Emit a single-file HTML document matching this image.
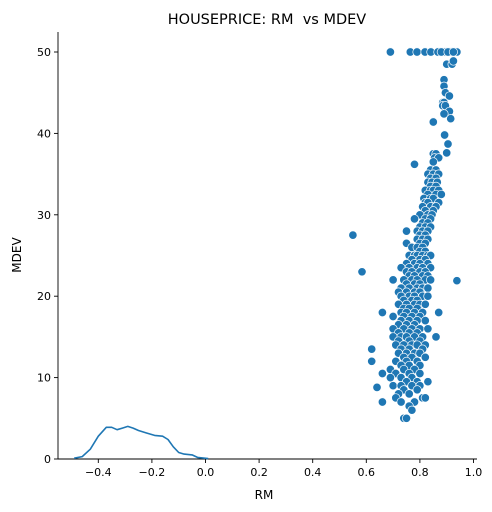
<!DOCTYPE html>
<html><head><meta charset="utf-8"><style>
html,body{margin:0;padding:0;background:#fff;}
svg{display:block;font-family:"DejaVu Sans","Liberation Sans",sans-serif;}
.pre{white-space:pre;}
</style></head><body>
<svg id="chart" width="492" height="512">
<text class="pre" x="267" y="24" text-anchor="middle" font-size="14.5">HOUSEPRICE: RM  vs MDEV</text>
<text x="21" y="255" text-anchor="middle" font-size="12" transform="rotate(-90 21 255)">MDEV</text>
<text x="264" y="499" text-anchor="middle" font-size="12">RM</text>
<g id="axes"></g>
<g id="kde"></g>
<g id="pts"></g>
</svg>
<script>
const xTicks=[-0.4,-0.2,0.0,0.2,0.4,0.6,0.8,1.0];
const xTickLabels=["\u22120.4","\u22120.2","0.0","0.2","0.4","0.6","0.8","1.0"];
const yTicks=[0,10,20,30,40,50];
const yTickLabels=["0","10","20","30","40","50"];
const kdeX=[-0.49,-0.46,-0.43,-0.40,-0.37,-0.35,-0.33,-0.31,-0.29,-0.27,-0.25,-0.22,-0.19,-0.16,-0.14,-0.12,-0.10,-0.08,-0.05,-0.03,0.01];
const kdeY=[0.1,0.3,1.2,2.8,3.9,3.9,3.6,3.8,4.0,3.8,3.5,3.2,2.9,2.8,2.4,1.5,0.8,0.6,0.5,0.2,0.05];
const rows=[
[50,[0.69,0.764,0.789,0.819,0.841,0.867,0.894,0.916,0.938,0.88,0.905,0.925]],
[48.5,[0.90,0.92]],[48.9,[0.925]],[46.6,[0.89]],[45.8,[0.89]],[45,[0.895]],[44.6,[0.91]],
[43.8,[0.885,0.89]],[43.4,[0.885,0.895]],[42.7,[0.91]],[42.4,[0.89]],[41.8,[0.915]],[41.4,[0.85]],
[39.8,[0.892]],[38.7,[0.905]],[37.6,[0.90]],[36.2,[0.78]],
[37.5,[0.85,0.86]],[37,[0.855,0.87]],[36.5,[0.85]],[35.5,[0.84,0.86]],[35,[0.83,0.85,0.87]],[34.5,[0.84,0.86]],
[34,[0.83,0.845,0.865]],[33.5,[0.84,0.86]],[33,[0.82,0.84,0.85,0.87]],[32.5,[0.83,0.86,0.88]],[32,[0.815,0.84,0.85]],
[31.5,[0.82,0.83,0.87]],[31,[0.81,0.84,0.86]],[30.5,[0.82,0.85]],[30,[0.80,0.83,0.845]],[29.5,[0.78,0.82,0.84]],
[29,[0.81,0.83]],[28.5,[0.80,0.82,0.84]],[28,[0.79,0.81,0.83,0.75]],[27.5,[0.80,0.82,0.55]],[27,[0.79,0.81,0.83]],
[26.5,[0.80,0.82,0.75]],[26,[0.77,0.79,0.81]],[25.5,[0.80,0.82]],[25,[0.76,0.78,0.79,0.81,0.83,0.84]],
[24.5,[0.77,0.80,0.82]],[24,[0.75,0.78,0.80,0.83]],[23.5,[0.73,0.76,0.79,0.81,0.84]],[23,[0.75,0.77,0.80,0.82,0.584]],
[22.5,[0.76,0.78,0.81,0.83]],[22,[0.70,0.74,0.77,0.79,0.82,0.84]],[21.9,[0.938]],[21.5,[0.75,0.78,0.80]],
[21,[0.73,0.76,0.79,0.81,0.83]],[20.5,[0.72,0.75,0.78,0.80]],[20,[0.73,0.76,0.78,0.81,0.83]],[19.5,[0.74,0.77,0.79]],
[19,[0.72,0.75,0.78,0.80,0.82]],[18.5,[0.74,0.76,0.79]],[18,[0.66,0.73,0.75,0.78,0.81,0.87]],[17.5,[0.70,0.74,0.77,0.80]],
[17,[0.73,0.76,0.79,0.82]],[16.5,[0.72,0.75,0.78]],[16,[0.70,0.74,0.77,0.80,0.83]],[15.5,[0.72,0.76,0.79]],
[15,[0.70,0.73,0.75,0.78,0.81,0.86]],[14.5,[0.72,0.76,0.80]],[14,[0.71,0.74,0.77,0.79,0.82]],[13.5,[0.62,0.73,0.76,0.81]],
[13,[0.72,0.75,0.78,0.80]],[12.5,[0.74,0.77,0.82]],[12,[0.62,0.71,0.75,0.79]],[11.5,[0.73,0.76,0.80]],
[11,[0.69,0.74,0.78]],[10.5,[0.66,0.71,0.76,0.80]],[10,[0.69,0.73,0.77]],[9.5,[0.75,0.79,0.83]],
[9,[0.70,0.73,0.77,0.80]],[8.8,[0.64]],[8.5,[0.74,0.79]],[8,[0.72,0.76]],[7.5,[0.71,0.81,0.82]],
[7,[0.66,0.73,0.78]],[6.5,[0.76]],[6,[0.77]],[5,[0.74,0.75]]
];
const L=58,R=477,T=32,B=459;
const xs=v=>205.5+268*v;
const ys=v=>B-v*8.14;
const NS="http://www.w3.org/2000/svg";
function mk(tag,attrs,parent){const e=document.createElementNS(NS,tag);for(const k in attrs)e.setAttribute(k,attrs[k]);parent.appendChild(e);return e;}
const ax=document.getElementById('axes');
let sp=mk('line',{x1:L,y1:T,x2:L,y2:B,stroke:'#000','stroke-width':0.9},ax);


sp=mk('line',{x1:L,y1:B,x2:R,y2:B,stroke:'#000','stroke-width':0.9},ax);


xTicks.forEach((t,i)=>{
  const x=xs(t);
  const tk=mk('line',{x1:x,y1:B,x2:x,y2:B+4,stroke:'#000','stroke-width':0.9},ax);
  
  
  const tx=mk('text',{x:x,y:B+17,'text-anchor':'middle','font-size':11},ax);
  tx.textContent=xTickLabels[i];
  
  
});
yTicks.forEach((t,i)=>{
  const y=ys(t);
  const tk=mk('line',{x1:L-4,y1:y,x2:L,y2:y,stroke:'#000','stroke-width':0.9},ax);
  
  
  const tx=mk('text',{x:L-7,y:y+4,'text-anchor':'end','font-size':11},ax);
  tx.textContent=yTickLabels[i];
  
  
});
const kd=document.getElementById('kde');
const path=mk('path',{d:kdeX.map((x,i)=>(i?'L':'M')+xs(x).toFixed(1)+','+ys(kdeY[i]).toFixed(1)).join(' '),fill:'none',stroke:'#1f77b4','stroke-width':1.6,'stroke-linejoin':'round'},kd);


const pg=document.getElementById('pts');
rows.forEach(r=>{r[1].forEach(x=>{
  const c=mk('circle',{cx:xs(x).toFixed(1),cy:ys(r[0]).toFixed(1),r:4.2,fill:'#1f77b4',stroke:'#fff','stroke-width':0.7},pg);
  
  
});});
</script>
</body></html>
